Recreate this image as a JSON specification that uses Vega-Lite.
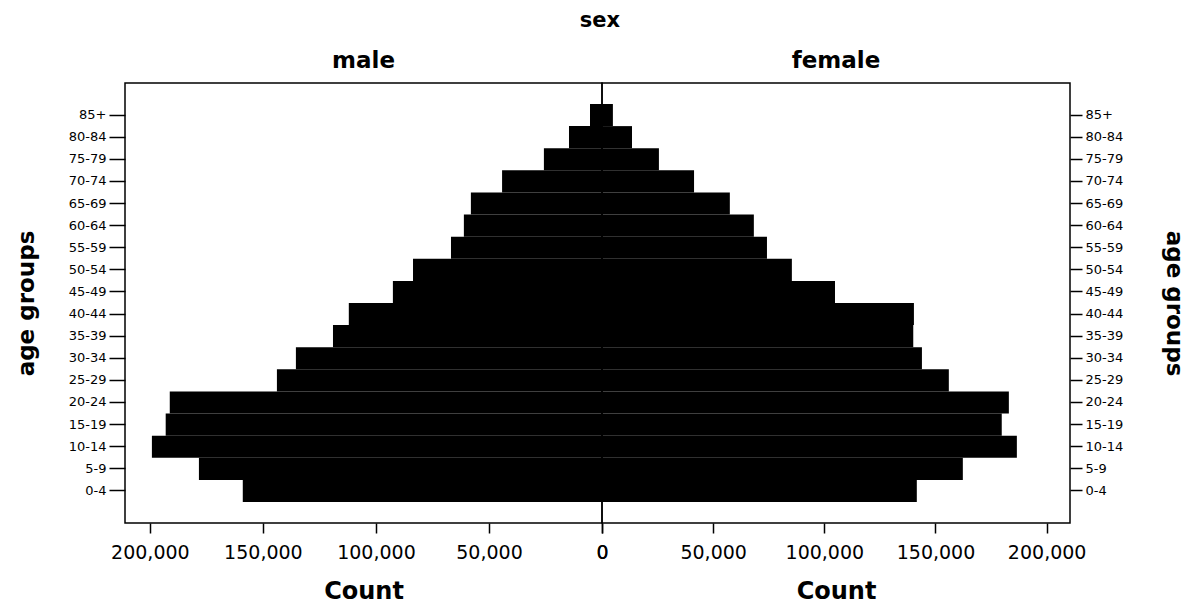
{
  "$schema": "https://vega.github.io/schema/vega-lite/v6.json",
  "padding": {"left": 14, "top": 10, "right": 5, "bottom": 5},
  "background": "white",
  "bounds": "flush",
  "config": {
    "font": "DejaVu Sans",
    "view": {"stroke": "black", "strokeWidth": 1.5},
    "axis": {"grid": false, "domain": false, "tickColor": "black", "tickWidth": 1.5, "labelColor": "black", "titleColor": "black", "labelFont": "DejaVu Sans", "titleFont": "DejaVu Sans"},
    "title": {"color": "black", "font": "DejaVu Sans"}
  },
  "title": {"text": "sex", "fontSize": 21, "fontWeight": "bold", "anchor": "middle", "offset": 18},
  "spacing": 0,
  "data": {"values": [
    {"age": "85+", "sex": "male", "count": 5300},
    {"age": "80-84", "sex": "male", "count": 14600},
    {"age": "75-79", "sex": "male", "count": 25700},
    {"age": "70-74", "sex": "male", "count": 44200},
    {"age": "65-69", "sex": "male", "count": 58000},
    {"age": "60-64", "sex": "male", "count": 61100},
    {"age": "55-59", "sex": "male", "count": 66800},
    {"age": "50-54", "sex": "male", "count": 83600},
    {"age": "45-49", "sex": "male", "count": 92500},
    {"age": "40-44", "sex": "male", "count": 112000},
    {"age": "35-39", "sex": "male", "count": 119000},
    {"age": "30-34", "sex": "male", "count": 135400},
    {"age": "25-29", "sex": "male", "count": 143800},
    {"age": "20-24", "sex": "male", "count": 191200},
    {"age": "15-19", "sex": "male", "count": 193000},
    {"age": "10-14", "sex": "male", "count": 199100},
    {"age": "5-9", "sex": "male", "count": 178300},
    {"age": "0-4", "sex": "male", "count": 158900},
    {"age": "85+", "sex": "female", "count": 4900},
    {"age": "80-84", "sex": "female", "count": 13500},
    {"age": "75-79", "sex": "female", "count": 25600},
    {"age": "70-74", "sex": "female", "count": 41400},
    {"age": "65-69", "sex": "female", "count": 57500},
    {"age": "60-64", "sex": "female", "count": 68300},
    {"age": "55-59", "sex": "female", "count": 74200},
    {"age": "50-54", "sex": "female", "count": 85400},
    {"age": "45-49", "sex": "female", "count": 104800},
    {"age": "40-44", "sex": "female", "count": 140300},
    {"age": "35-39", "sex": "female", "count": 140000},
    {"age": "30-34", "sex": "female", "count": 143900},
    {"age": "25-29", "sex": "female", "count": 156000},
    {"age": "20-24", "sex": "female", "count": 183000},
    {"age": "15-19", "sex": "female", "count": 179800},
    {"age": "10-14", "sex": "female", "count": 186600},
    {"age": "5-9", "sex": "female", "count": 162300},
    {"age": "0-4", "sex": "female", "count": 141600}
  ]},
  "hconcat": [
    {
      "width": 477,
      "height": 440,
      "title": {"text": "male", "fontSize": 23, "fontWeight": "bold", "anchor": "middle", "offset": 10},
      "transform": [{"filter": "datum.sex === 'male'"}],
      "mark": {"type": "bar", "color": "black"},
      "encoding": {
        "x": {
          "field": "count", "type": "quantitative",
          "scale": {"domain": [0, 211000], "reverse": true, "nice": false, "zero": true},
          "axis": {"values": [0, 50000, 100000, 150000, 200000], "format": ",.0f", "title": "Count", "titleFontSize": 24, "titleFontWeight": "bold", "labelFontSize": 19, "tickSize": 10, "labelPadding": 10, "titlePadding": 17, "labelFlush": false}
        },
        "y": {
          "field": "age", "type": "nominal",
          "sort": ["85+","80-84","75-79","70-74","65-69","60-64","55-59","50-54","45-49","40-44","35-39","30-34","25-29","20-24","15-19","10-14","5-9","0-4"],
          "scale": {"paddingInner": 0, "paddingOuter": 0.95},
          "axis": {"title": "age groups", "titleFontSize": 23, "titleFontWeight": "bold", "labelFontSize": 13, "tickSize": 16, "labelPadding": 3, "titlePadding": 30}
        }
      }
    },
    {
      "width": 468,
      "height": 440,
      "title": {"text": "female", "fontSize": 23, "fontWeight": "bold", "anchor": "middle", "offset": 10},
      "transform": [{"filter": "datum.sex === 'female'"}],
      "mark": {"type": "bar", "color": "black"},
      "encoding": {
        "x": {
          "field": "count", "type": "quantitative",
          "scale": {"domain": [0, 210500], "nice": false, "zero": true},
          "axis": {"values": [0, 50000, 100000, 150000, 200000], "format": ",.0f", "title": "Count", "titleFontSize": 24, "titleFontWeight": "bold", "labelFontSize": 19, "tickSize": 10, "labelPadding": 10, "titlePadding": 17, "labelFlush": false}
        },
        "y": {
          "field": "age", "type": "nominal",
          "sort": ["85+","80-84","75-79","70-74","65-69","60-64","55-59","50-54","45-49","40-44","35-39","30-34","25-29","20-24","15-19","10-14","5-9","0-4"],
          "scale": {"paddingInner": 0, "paddingOuter": 0.95},
          "axis": {"orient": "right", "title": "age groups", "titleAngle": 90, "titleFontSize": 23, "titleFontWeight": "bold", "labelFontSize": 13, "tickSize": 12, "labelPadding": 3, "titlePadding": 39}
        }
      }
    }
  ]
}
